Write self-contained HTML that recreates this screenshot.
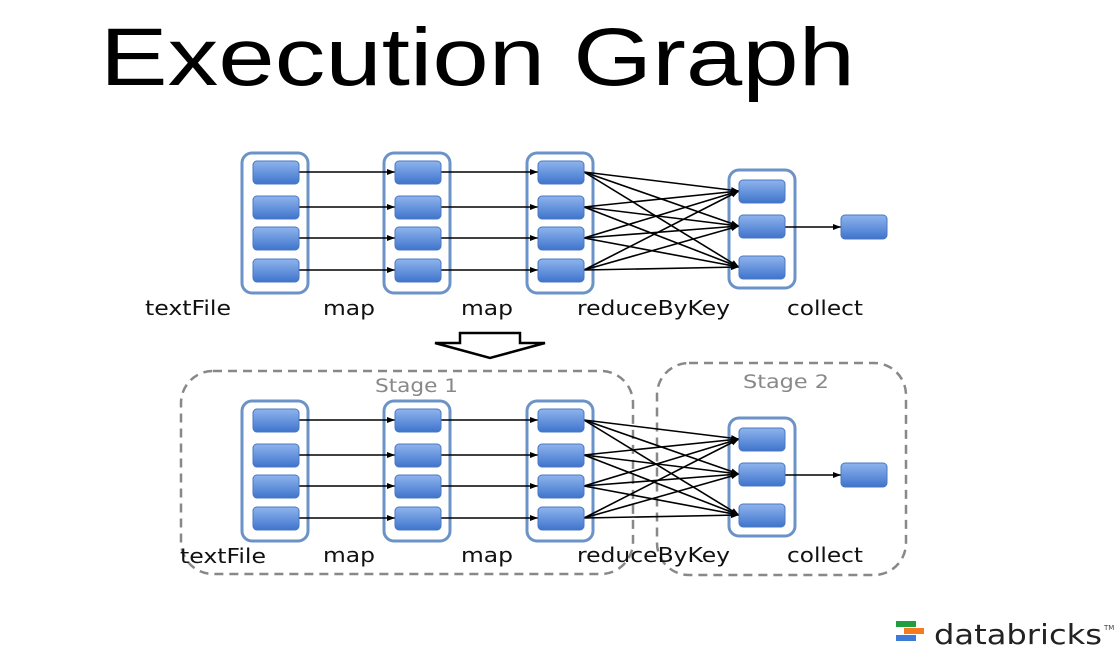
<!DOCTYPE html>
<html><head><meta charset="utf-8"><style>
html,body{margin:0;padding:0;background:#fff;}
svg{display:block;}
text{font-family:"DejaVu Sans","Liberation Sans",sans-serif;}
.t{font-family:"Liberation Sans","DejaVu Sans",sans-serif;}
</style></head><body>
<svg width="1120" height="655" viewBox="0 0 1120 655" xmlns="http://www.w3.org/2000/svg">
<defs>
<linearGradient id="g" x1="0" y1="0" x2="0" y2="1">
<stop offset="0" stop-color="#8fb4ee"/><stop offset="1" stop-color="#3f74cc"/></linearGradient>
<marker id="a" markerWidth="8" markerHeight="6" refX="8" refY="3" orient="auto" markerUnits="userSpaceOnUse">
<path d="M0,0 L8,3 L0,6 z" fill="#000"/></marker>
<g id="row">
<rect x="242" y="153" width="66" height="140" rx="10" fill="#fff" stroke="#6b93c8" stroke-width="3"/>
<rect x="384" y="153" width="66" height="140" rx="10" fill="#fff" stroke="#6b93c8" stroke-width="3"/>
<rect x="527" y="153" width="66" height="140" rx="10" fill="#fff" stroke="#6b93c8" stroke-width="3"/>
<rect x="729" y="170" width="66" height="118" rx="10" fill="#fff" stroke="#6b93c8" stroke-width="3"/>
<g stroke="#000" stroke-width="1.6" marker-end="url(#a)">
<line x1="299" y1="172" x2="395" y2="172"/><line x1="299" y1="207" x2="395" y2="207"/>
<line x1="299" y1="238" x2="395" y2="238"/><line x1="299" y1="270" x2="395" y2="270"/>
<line x1="441" y1="172" x2="538" y2="172"/><line x1="441" y1="207" x2="538" y2="207"/>
<line x1="441" y1="238" x2="538" y2="238"/><line x1="441" y1="270" x2="538" y2="270"/>
<line x1="584" y1="172" x2="739" y2="191"/><line x1="584" y1="172" x2="739" y2="226"/><line x1="584" y1="172" x2="739" y2="267"/>
<line x1="584" y1="207" x2="739" y2="191"/><line x1="584" y1="207" x2="739" y2="226"/><line x1="584" y1="207" x2="739" y2="267"/>
<line x1="584" y1="238" x2="739" y2="191"/><line x1="584" y1="238" x2="739" y2="226"/><line x1="584" y1="238" x2="739" y2="267"/>
<line x1="584" y1="270" x2="739" y2="191"/><line x1="584" y1="270" x2="739" y2="226"/><line x1="584" y1="270" x2="739" y2="267"/>
<line x1="785" y1="227" x2="841" y2="227"/>
</g>
<g fill="url(#g)" stroke="#4a78c0" stroke-width="1">
<rect x="253" y="161" width="46" height="23" rx="4"/><rect x="253" y="196" width="46" height="23" rx="4"/>
<rect x="253" y="227" width="46" height="23" rx="4"/><rect x="253" y="259" width="46" height="23" rx="4"/>
<rect x="395" y="161" width="46" height="23" rx="4"/><rect x="395" y="196" width="46" height="23" rx="4"/>
<rect x="395" y="227" width="46" height="23" rx="4"/><rect x="395" y="259" width="46" height="23" rx="4"/>
<rect x="538" y="161" width="46" height="23" rx="4"/><rect x="538" y="196" width="46" height="23" rx="4"/>
<rect x="538" y="227" width="46" height="23" rx="4"/><rect x="538" y="259" width="46" height="23" rx="4"/>
<rect x="739" y="180" width="46" height="23" rx="4"/><rect x="739" y="215" width="46" height="23" rx="4"/>
<rect x="739" y="256" width="46" height="23" rx="4"/><rect x="841" y="215" width="46" height="24" rx="4"/>
</g>
</g>
</defs>
<text class="t" x="100" y="85" font-size="82" textLength="755" lengthAdjust="spacingAndGlyphs" fill="#000">Execution Graph</text>
<use href="#row"/>
<g font-size="20" fill="#111">
<text x="145" y="315" textLength="86" lengthAdjust="spacingAndGlyphs">textFile</text>
<text x="323" y="315" textLength="52" lengthAdjust="spacingAndGlyphs">map</text>
<text x="461" y="315" textLength="52" lengthAdjust="spacingAndGlyphs">map</text>
<text x="577" y="315" textLength="153" lengthAdjust="spacingAndGlyphs">reduceByKey</text>
<text x="787" y="315" textLength="76" lengthAdjust="spacingAndGlyphs">collect</text>
</g>
<polygon points="460,333 520,333 520,343 545,343 490,358 435,343 460,343" fill="#fff" stroke="#000" stroke-width="2.5"/>
<rect x="181" y="371" width="452" height="203" rx="32" fill="none" stroke="#888" stroke-width="2.5" stroke-dasharray="9,6"/>
<rect x="657" y="363" width="249" height="212" rx="32" fill="none" stroke="#888" stroke-width="2.5" stroke-dasharray="9,6"/>
<text x="375" y="392" font-size="19" fill="#888" textLength="83" lengthAdjust="spacingAndGlyphs">Stage 1</text>
<text x="743" y="388" font-size="19" fill="#888" textLength="86" lengthAdjust="spacingAndGlyphs">Stage 2</text>
<use href="#row" transform="translate(0,248)"/>
<g font-size="20" fill="#111">
<text x="180" y="563" textLength="86" lengthAdjust="spacingAndGlyphs">textFile</text>
<text x="323" y="562" textLength="52" lengthAdjust="spacingAndGlyphs">map</text>
<text x="461" y="562" textLength="52" lengthAdjust="spacingAndGlyphs">map</text>
<text x="577" y="562" textLength="153" lengthAdjust="spacingAndGlyphs">reduceByKey</text>
<text x="787" y="562" textLength="76" lengthAdjust="spacingAndGlyphs">collect</text>
</g>
<rect x="896" y="621" width="20" height="6" fill="#1e9e3e"/>
<rect x="904" y="628" width="20" height="6" fill="#f47b20"/>
<rect x="896" y="635" width="20" height="6" fill="#3e7bd8"/>
<text x="934" y="644" font-size="28" fill="#222" textLength="168" lengthAdjust="spacingAndGlyphs">databricks</text>
<text x="1104" y="630" font-size="7" fill="#444">TM</text>
</svg>
</body></html>
